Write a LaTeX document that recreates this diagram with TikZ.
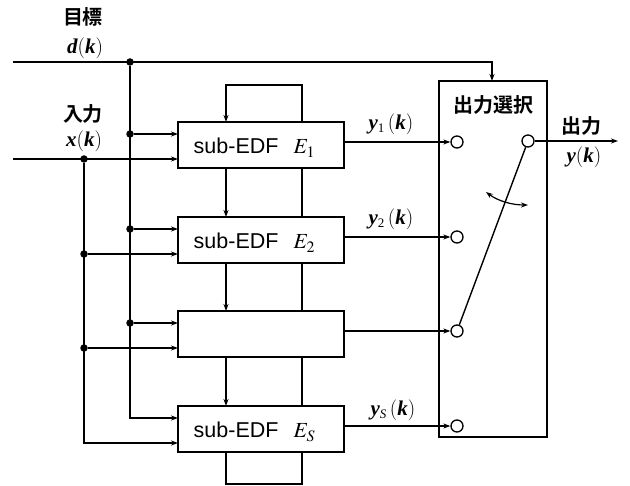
\documentclass[tikz,border=0pt]{standalone}
\usepackage{mathptmx}
\usepackage{fontspec}
\newfontfamily\jp{Noto Sans CJK JP}[BoldFont={Noto Sans CJK JP Bold}]
\newfontfamily\hv{Liberation Sans}
\newfontfamily\tm{Liberation Serif}
\newcommand\vlab[1]{{\tm\bfseries\itshape #1}}
\newcommand\vsub[1]{\raisebox{-3.5pt}{\tm\fontsize{13}{13}\selectfont #1}}
\usetikzlibrary{arrows.meta,calc}
\begin{document}
\begin{tikzpicture}[x=1pt,y=-1pt,line width=1.4pt,
  blk/.style={draw,minimum width=166pt,minimum height=46pt,inner sep=0pt,outer sep=0pt},
  selbox/.style={draw,minimum width=108pt,minimum height=356pt,inner sep=0pt,outer sep=0pt},
  arr/.style={-{Stealth[length=7pt,width=5pt]}},
  dualarr/.style={{Stealth[length=7pt,width=5pt]}-{Stealth[length=7pt,width=5pt]}},
  jdot/.style={circle,fill,inner sep=0pt,minimum size=7.5pt},
  term/.style={circle,draw,fill=white,inner sep=0pt,minimum size=12pt,line width=1.3pt},
  jlbl/.style={font=\jp\bfseries\fontsize{20}{20}\selectfont,inner sep=0pt},
  mlbl/.style={font=\fontsize{21}{21}\selectfont,inner sep=0pt},
  sublbl/.style={font=\hv\fontsize{21.5}{21.5}\selectfont,inner sep=0pt,anchor=base west}]
\useasboundingbox (0,0) rectangle (630,486);

% blocks
\node[blk] (e1) at (261,145) {};
\node[blk] (e2) at (261,240) {};
\node[blk] (e3) at (261,334) {};
\node[blk] (es) at (261,429) {};
\node[sublbl] (t1) at (193,154) {sub-EDF\hspace{15pt}$E_1$};
\node[sublbl] (t2) at (193,249) {sub-EDF\hspace{15pt}$E_2$};
\node[sublbl] (ts) at (193,438) {sub-EDF\hspace{15pt}$E_S$};

\node[selbox] (sel) at (493,259) {};
\node[jlbl] (seltxt) at (493,105) {出力選択};

% column coordinates
\coordinate (colA) at (226,0);
\coordinate (colB) at (302,0);
\coordinate (dbus) at (130,0);
\coordinate (xbus) at (84,0);
\coordinate (dcol) at (492,0);
\coordinate (bot) at (0,484);
\coordinate (dstart) at (13,62);
\coordinate (xstart) at (13,159);

\foreach \b in {e1,e2,e3,es}{
  \coordinate (\b-d) at ($(\b.north west)+(0,12)$);
  \coordinate (\b-x) at ($(\b.north west)+(0,37)$);
}

% feedback / chain
\draw[arr] (e1.north -| colB) -- ++(0,-37) -| (e1.north -| colA);
\draw[arr] (e1.south -| colA) -- (e2.north -| colA);
\draw (e1.south -| colB) -- (e2.north -| colB);
\draw[arr] (e2.south -| colA) -- (e3.north -| colA);
\draw (e2.south -| colB) -- (e3.north -| colB);
\draw[arr] (e3.south -| colA) -- (es.north -| colA);
\draw (e3.south -| colB) -- (es.north -| colB);
\draw (es.south -| colA) -- (colA |- bot) -- (colB |- bot) -- (es.south -| colB);

% target d(k)
\coordinate (dtgt) at (sel.north -| dcol);
\draw[arr] (dstart) -| (dtgt);
\node[jdot] (dj0) at (dbus |- dstart) {};
\draw[arr] (dj0) |- (es-d);
\node[jdot] (dj1) at (dbus |- e1-d) {};
\node[jdot] (dj2) at (dbus |- e2-d) {};
\node[jdot] (dj3) at (dbus |- e3-d) {};
\draw[arr] (dj1) -- (e1-d);
\draw[arr] (dj2) -- (e2-d);
\draw[arr] (dj3) -- (e3-d);

% input x(k)
\draw[arr] (xstart) -- (e1-x);
\node[jdot] (xj1) at (xbus |- e1-x) {};
\node[jdot] (xj2) at (xbus |- e2-x) {};
\node[jdot] (xj3) at (xbus |- e3-x) {};
\draw[arr] (xj1) |- (es-x);
\draw[arr] (xj2) -- (e2-x);
\draw[arr] (xj3) -- (e3-x);

% terminals
\node[term] (c1) at (457,142) {};
\node[term] (c2) at (457,237) {};
\node[term] (c3) at (457,331) {};
\node[term] (c4) at (457,426) {};
\node[term] (c0) at (528,141) {};
\draw[arr] (e1.east |- c1) -- (c1);
\draw[arr] (e2.east |- c2) -- (c2);
\draw[arr] (e3.east |- c3) -- (c3);
\draw[arr] (es.east |- c4) -- (c4);
\draw (c0) -- (c3);
\coordinate (outend) at (618,141);
\draw[arr] (c0) -- (outend);
\coordinate (swa) at (486,192);
\coordinate (swb) at (528,205);
\draw[dualarr,line width=1.2pt] (swa) .. controls (498,201) and (512,205) .. (swb);

% labels
\node[jlbl] (lt) at (83,17) {目標};
\node[mlbl] (ld) at (85,48) {\vlab{d}(\vlab{k})};
\node[jlbl] (li) at (83,114) {入力};
\node[mlbl] (lx) at (84,141) {\vlab{x}(\vlab{k})};
\node[mlbl] (ly1) at (391,124) {\vlab{y}\vsub{1}\,(\vlab{k})};
\node[mlbl] (ly2) at (391,219) {\vlab{y}\vsub{2}\,(\vlab{k})};
\node[mlbl] (lys) at (393,410) {\vlab{y}\vsub{\itshape S}\,(\vlab{k})};
\node[jlbl] (lo) at (581,126) {出力};
\node[mlbl] (ly) at (584,157) {\vlab{y}(\vlab{k})};
\end{tikzpicture}
\end{document}
